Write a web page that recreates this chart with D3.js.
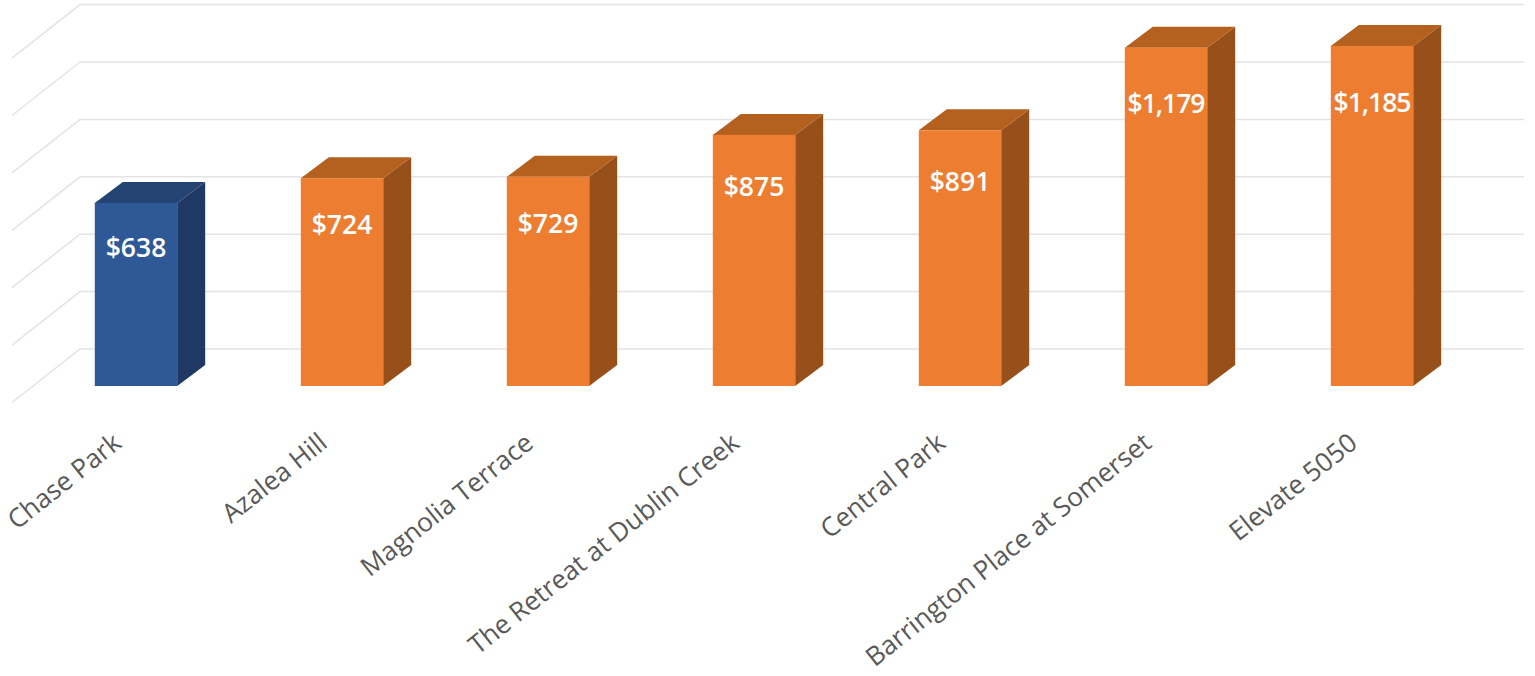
<!DOCTYPE html>
<html>
<head>
<meta charset="utf-8">
<title>Average rent by community</title>
<script src="https://cdn.jsdelivr.net/npm/d3@7/dist/d3.min.js"></script>
<style>
  html, body { margin: 0; padding: 0; background: #fff; overflow: hidden; }
  svg { display: block; }
  .cat text { font-family: "Open Sans", sans-serif; font-size: 26.2px; fill: #595959; }
  .val { font-family: "Open Sans", sans-serif; font-size: 26.5px; font-weight: 600; fill: #fff; text-anchor: middle; }
</style>
</head>
<body>
<svg id="chart" width="1535" height="676"></svg>
<script>
const categories = ["Chase Park", "Azalea Hill", "Magnolia Terrace", "The Retreat at Dublin Creek",
  "Central Park", "Barrington Place at Somerset", "Elevate 5050"];
const rents = [638, 724, 729, 875, 891, 1179, 1185];
const highlighted = ["Chase Park"];
const gridValues = [0, 200, 400, 600, 800, 1000, 1200];

const palette = {
  base: { front: "#2E5896", side: "#1F3864", top: "#234373" },
  other: { front: "#ED7D31", side: "#98501A", top: "#B4601F" },
  grid: "#E3E3E6"
};

// Oblique projection: the floor recedes up and to the right.
const baseline = 386;
const bandStart = 33;
const step = 206;
const barDepth = { x: 28, y: -21 };
const wallOffset = { x: 47, y: -37 };
const floorFront = { x: -21, y: 16.5 };

const svg = d3.select("#chart");

const x = d3.scaleBand()
  .domain(categories)
  .range([bandStart, bandStart + step * categories.length])
  .paddingInner(0.6)
  .paddingOuter(0.3);

const y = d3.scaleLinear().domain([0, 1200]).range([baseline, baseline - 344.4]);

// Value labels sit a little further below the bar top as bars get taller.
const labelY = d3.scaleLinear().domain([638, 875, 1185]).range([247, 186, 102]);

const [r0, r1] = x.range();

const grid = svg.append("g").attr("fill", "none").attr("stroke", palette.grid).attr("stroke-width", 1.5);
grid.selectAll("path")
  .data(gridValues)
  .join("path")
  .attr("d", v => d3.line()([
    [r0 + floorFront.x, y(v) + floorFront.y],
    [r0 + wallOffset.x, y(v) + wallOffset.y],
    [r1 + wallOffset.x + 2, y(v) + wallOffset.y]
  ]));

const rows = categories.map((name, i) => ({ name, value: rents[i] }));
const poly = d3.line();

const bars = svg.append("g").selectAll("g").data(rows).join("g");
const tone = d => highlighted.includes(d.name) ? palette.base : palette.other;

bars.append("path")
  .attr("fill", d => tone(d).side)
  .attr("d", d => {
    const r = x(d.name) + x.bandwidth();
    return poly([[r, y(d.value)], [r + barDepth.x, y(d.value) + barDepth.y],
      [r + barDepth.x, baseline + barDepth.y], [r, baseline]]) + "Z";
  });

bars.append("path")
  .attr("fill", d => tone(d).top)
  .attr("d", d => {
    const l = x(d.name), r = l + x.bandwidth(), t = y(d.value);
    return poly([[l, t], [l + barDepth.x, t + barDepth.y],
      [r + barDepth.x, t + barDepth.y], [r, t]]) + "Z";
  });

bars.append("rect")
  .attr("fill", d => tone(d).front)
  .attr("x", d => x(d.name))
  .attr("y", d => y(d.value))
  .attr("width", x.bandwidth())
  .attr("height", d => baseline - y(d.value));

bars.append("text")
  .attr("class", "val")
  .attr("x", d => x(d.name) + x.bandwidth() / 2)
  .attr("y", d => labelY(d.value))
  .attr("dy", "0.36em")
  .style("letter-spacing", d => d.value >= 1000 ? "-1px" : null)
  .text(d => d3.format("$,")(d.value));

// Category axis with slanted labels ending just left of each bar's centre.
const axis = svg.append("g")
  .attr("class", "cat")
  .attr("transform", `translate(0,${baseline})`)
  .call(d3.axisBottom(x).tickSize(0).tickPadding(0));
axis.select(".domain").remove();
axis.selectAll(".tick text")
  .attr("text-anchor", "end")
  .attr("dy", 0)
  .attr("y", 0)
  .attr("transform", "translate(-13,60) rotate(-38.5)");
</script>
</body>
</html>
